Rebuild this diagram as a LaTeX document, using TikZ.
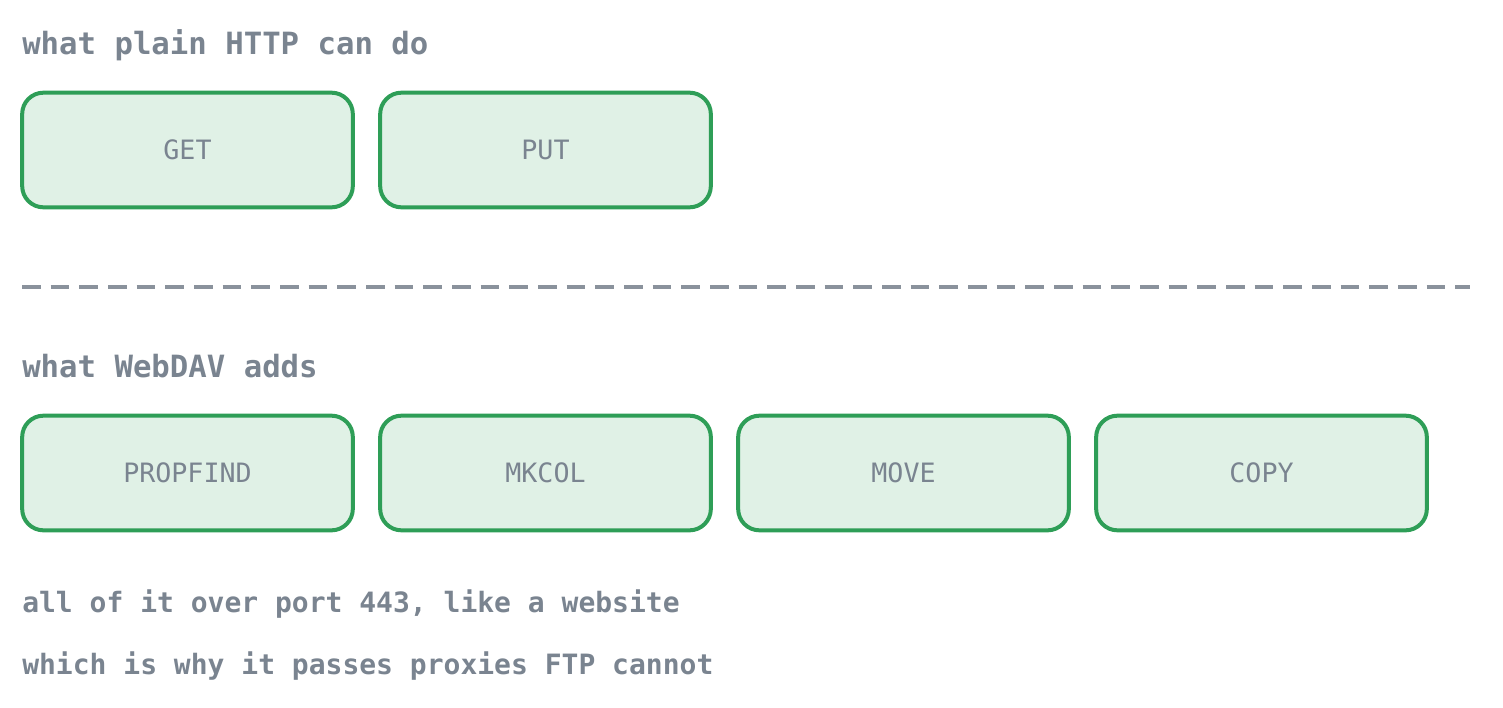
\documentclass[tikz,border=0pt]{standalone}
\usepackage{fontspec}
\setmonofont{DejaVu Sans Mono}
\definecolor{boxline}{HTML}{2E9E57}
\definecolor{boxfill}{HTML}{E0F1E6}
\definecolor{txtgray}{HTML}{7A8490}
\definecolor{dashgray}{HTML}{8A929C}
\tikzset{
  verb/.style={draw=boxline,fill=boxfill,line width=3pt,rounded corners=16pt,
    minimum width=248pt,minimum height=86pt,inner sep=0pt,
    font=\ttfamily\fontsize{20}{24}\selectfont,text=txtgray},
  head/.style={anchor=base west,inner sep=0pt,text=txtgray,font=\ttfamily\bfseries\fontsize{23}{28}\selectfont},
  note/.style={anchor=base west,inner sep=0pt,text=txtgray,font=\ttfamily\bfseries\fontsize{21}{26}\selectfont}
}
\begin{document}
\begin{tikzpicture}[x=0.75pt,y=0.75pt,yscale=-1,xscale=1]
\useasboundingbox (0,0) rectangle (1503,707);

% plain HTTP
\node[head] (httphead) at (22,54) {what plain HTTP can do};
\node[verb] (get) at (187.5,150) {GET};
\node[verb] (put) at (545.5,150) {PUT};

% separator
\coordinate (sepl) at (22,287);
\coordinate (sepr) at (1470,287);
\draw[dashgray,line width=2.4pt,dash pattern=on 14pt off 7.5pt] (sepl) -- (sepr);

% WebDAV
\node[head] (davhead) at (22,377) {what WebDAV adds};
\node[verb] (propfind) at (187.5,473) {PROPFIND};
\node[verb] (mkcol) at (545.5,473) {MKCOL};
\node[verb] (move) at (903.5,473) {MOVE};
\node[verb] (copy) at (1261.5,473) {COPY};

% notes
\node[note] (port) at (22,612) {all of it over port 443, like a website};
\node[note] (proxy) at (22,674) {which is why it passes proxies FTP cannot};

\end{tikzpicture}
\end{document}
